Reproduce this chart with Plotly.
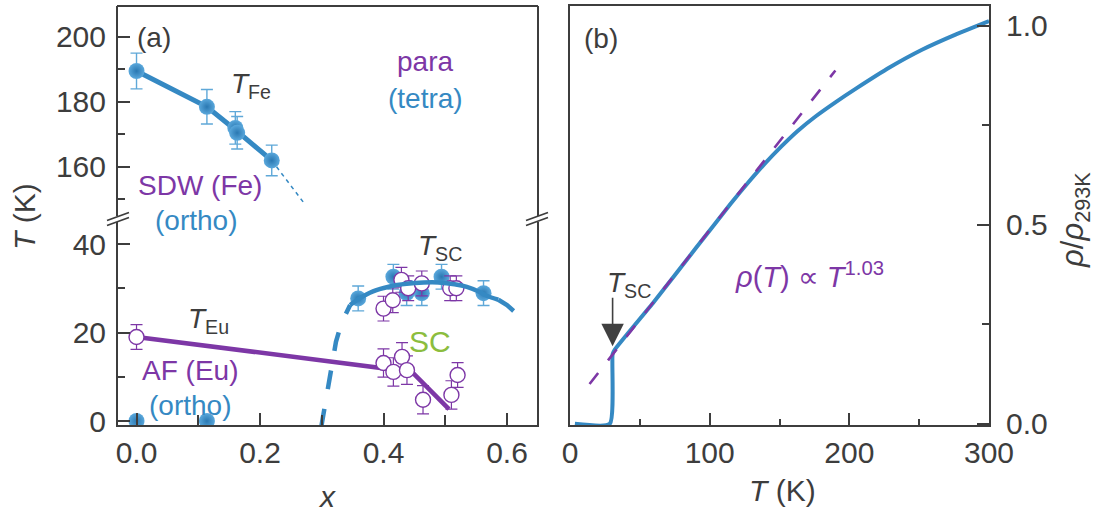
import plotly.graph_objects as go

W, H = 1098, 518

# ---------------- panel (a): phase diagram ----------------
# T_Fe (SDW transition, filled symbols)
fe_x = [0.0, 0.114, 0.160, 0.163, 0.219]
fe_T = [189.5, 178.5, 172.0, 170.5, 162.0]
fe_err = [5.5, 5.3, 5.0, 5.0, 4.7]
fe_line_x = [0.0, 0.114, 0.1615, 0.219]
fe_line_T = [189.5, 178.5, 171.2, 162.0]
fe_ext_x = [0.219, 0.245, 0.270]
fe_ext_T = [162.0, 155.5, 149.2]

# samples without ordering transitions at T = 0
zero_x = [0.0, 0.114]
zero_T = [0.0, 0.0]

# T_SC, filled symbols
sc_x = [0.359, 0.416, 0.4375, 0.462, 0.494, 0.562]
sc_T = [27.7, 32.6, 28.9, 28.9, 32.6, 28.9]
sc_err = [2.8, 2.8, 2.8, 2.8, 2.8, 2.8]

# T_SC, open symbols
sc2_x = [0.400, 0.415, 0.429, 0.440, 0.462, 0.508, 0.518]
sc2_T = [25.4, 27.3, 31.9, 30.0, 31.1, 30.0, 30.0]
sc2_err = [2.8, 2.8, 2.8, 2.8, 2.8, 2.8, 2.8]

# T_Eu, open symbols
eu_x = [0.0, 0.400, 0.416, 0.430, 0.438, 0.464, 0.510, 0.520]
eu_T = [19.0, 13.1, 11.1, 14.5, 11.5, 4.8, 5.9, 10.4]
eu_err = [2.8, 3.2, 3.2, 3.2, 3.2, 3.2, 3.2, 2.8]
eu_line_x = [0.0, 0.446, 0.506]
eu_line_T = [19.0, 11.1, 2.7]

# superconducting dome
dome_x = [0.346, 0.360, 0.383, 0.410, 0.4375, 0.465, 0.490, 0.515, 0.535, 0.555, 0.567, 0.586]
dome_T = [26.2, 27.6, 29.3, 30.4, 31.0, 31.3, 31.3, 30.9, 30.3, 29.2, 28.3, 27.4]
dome_lo_x = [0.299, 0.305, 0.310, 0.316, 0.323, 0.332, 0.346]
dome_lo_T = [-1.5, 3.2, 8.5, 13.0, 17.9, 22.2, 26.2]
dome_hi_x = [0.586, 0.600, 0.613, 0.627]
dome_hi_T = [27.4, 26.2, 24.6, 22.8]

# ---------------- panel (b): resistivity ----------------
rho_T = [3.5, 28.5, 30.5, 32.0, 60.0, 90.0, 115.0, 127.0, 139.0, 151.0, 163.0, 176.0,
         190.0, 205.0, 229.0, 252.0, 276.0, 300.0]
rho_v = [0.0, 0.0, 0.175, 0.186, 0.306, 0.441, 0.553, 0.604, 0.652, 0.696, 0.736, 0.773,
         0.808, 0.843, 0.896, 0.940, 0.978, 1.012]
fit_T = [14.0, 100.0, 190.0]
fit_v = [0.100, 0.487, 0.888]
tsc_rho_T = 30.5
tsc_rho_v = 0.195

BLUE = "#3589c3"
BLUE_ERR = "#5fa8d8"
PURPLE = "#7d37a6"
GREEN = "#8cbd3e"
GREY = "#3d3d3d"
FONT = "Liberation Sans, Arial, sans-serif"


def px(x):
    return x / W


def py(y):
    return 1 - y / H


sphere = dict(color="#5aa8dc", size=16, gradient=dict(type="radial", color="#2a78b2"),
              line=dict(width=0))
ring = dict(color="white", size=15, symbol="circle", line=dict(color=PURPLE, width=1.4))

fig = go.Figure()

# upper part (T_Fe)
fig.add_trace(go.Scatter(x=fe_ext_x, y=fe_ext_T, mode="lines", xaxis="x", yaxis="y2",
                         line=dict(color=BLUE, width=1.5, dash="4px,4px")))
fig.add_trace(go.Scatter(x=fe_line_x, y=fe_line_T, mode="lines", xaxis="x", yaxis="y2",
                         line=dict(color=BLUE, width=5)))
fig.add_trace(go.Scatter(x=fe_x, y=fe_T, mode="markers", xaxis="x", yaxis="y2",
                         marker=sphere,
                         error_y=dict(type="data", array=fe_err, color=BLUE_ERR,
                                      thickness=1.4, width=6)))

# lower part
fig.add_trace(go.Scatter(x=dome_lo_x, y=dome_lo_T, mode="lines", xaxis="x", yaxis="y",
                         line=dict(color=BLUE, width=4.5, dash="19px,20px")))
fig.add_trace(go.Scatter(x=dome_hi_x, y=dome_hi_T, mode="lines", xaxis="x", yaxis="y",
                         line=dict(color=BLUE, width=4.5, dash="19px,20px")))
fig.add_trace(go.Scatter(x=eu_line_x, y=eu_line_T, mode="lines", xaxis="x", yaxis="y",
                         line=dict(color=PURPLE, width=4.5)))
fig.add_trace(go.Scatter(x=sc_x, y=sc_T, mode="markers", xaxis="x", yaxis="y",
                         marker=sphere,
                         error_y=dict(type="data", array=sc_err, color=BLUE_ERR,
                                      thickness=1.4, width=6)))
fig.add_trace(go.Scatter(x=sc2_x, y=sc2_T, mode="markers", xaxis="x", yaxis="y",
                         marker=ring,
                         error_y=dict(type="data", array=sc2_err, color=PURPLE,
                                      thickness=1.2, width=6)))
fig.add_trace(go.Scatter(x=dome_x, y=dome_T, mode="lines", xaxis="x", yaxis="y",
                         line=dict(color=BLUE, width=4.5, shape="spline")))
fig.add_trace(go.Scatter(x=eu_x, y=eu_T, mode="markers", xaxis="x", yaxis="y",
                         marker=ring,
                         error_y=dict(type="data", array=eu_err, color=PURPLE,
                                      thickness=1.2, width=6)))
fig.add_trace(go.Scatter(x=zero_x, y=zero_T, mode="markers", xaxis="x", yaxis="y",
                         marker=sphere))

# panel (b)
fig.add_trace(go.Scatter(x=rho_T, y=rho_v, mode="lines", xaxis="x3", yaxis="y3",
                         line=dict(color=BLUE, width=4, shape="spline", smoothing=0.5)))
fig.add_trace(go.Scatter(x=fit_T, y=fit_v, mode="lines", xaxis="x3", yaxis="y3",
                         line=dict(color=PURPLE, width=2.6, dash="14px,16px")))

tickfont = dict(family=FONT, size=30, color=GREY)
common = dict(showgrid=False, zeroline=False, showline=True, linecolor=GREY, linewidth=2,
              ticks="inside", tickcolor=GREY, tickwidth=2, tickfont=tickfont,
              automargin=False)

xa_dom = [px(118), px(537)]
xb_dom = [px(570), px(989)]

fig.update_layout(
    width=W, height=H,
    margin=dict(l=0, r=0, t=0, b=0, pad=0, autoexpand=False),
    paper_bgcolor="white", plot_bgcolor="rgba(0,0,0,0)",
    showlegend=False,
    font=dict(family=FONT, color=GREY),
    xaxis=dict(domain=xa_dom, range=[-0.03, 0.6486], anchor="y", dtick=0.2, tick0=0,
               tickformat=".1f", ticklen=12,
               minor=dict(dtick=0.1, ticklen=10, ticks="inside", tickcolor=GREY, tickwidth=2),
               **common),
    yaxis=dict(domain=[py(425), py(221)], range=[-0.9, 45.2], anchor="x", dtick=20, tick0=0,
               ticklen=12, mirror=True, ticklabelstandoff=4,
               minor=dict(dtick=10, ticklen=7, ticks="inside", tickcolor=GREY, tickwidth=2),
               **common),
    yaxis2=dict(domain=[py(217), py(6)], range=[144.6, 209.5], anchor="x", dtick=20, tick0=0,
                ticklen=12, mirror=True, ticklabelstandoff=4,
                minor=dict(dtick=10, ticklen=7, ticks="inside", tickcolor=GREY, tickwidth=2),
                **common),
    xaxis3=dict(domain=xb_dom, range=[0, 300], anchor="y3", dtick=100, tick0=0, ticklen=12,
                mirror=True,
                minor=dict(dtick=50, ticklen=6, ticks="inside", tickcolor=GREY, tickwidth=2),
                **common),
    yaxis3=dict(domain=[py(425), py(6)], range=[-0.003, 1.05], anchor="x3", side="right",
                dtick=0.5, tick0=0, tickformat=".1f", ticklen=12, mirror=True,
                ticklabelstandoff=9,
                minor=dict(dtick=0.25, ticklen=7, ticks="inside", tickcolor=GREY, tickwidth=2),
                **common),
)

shapes = []
# top frame line of panel (a)
shapes.append(dict(type="line", xref="paper", yref="paper", x0=px(117), x1=px(538),
                   y0=py(6), y1=py(6), line=dict(color=GREY, width=2)))
# axis-break marks on both spines of panel (a)
for xc in (118, 537):
    shapes.append(dict(type="line", xref="paper", yref="paper",
                       x0=px(xc), y0=py(216), x1=px(xc), y1=py(222),
                       line=dict(color="white", width=4)))
    for dy in (-2.5, 2.5):
        shapes.append(dict(type="line", xref="paper", yref="paper",
                           x0=px(xc - 11), y0=py(219 + dy + 4), x1=px(xc + 11), y1=py(219 + dy - 4),
                           line=dict(color=GREY, width=1.8)))
fig.update_layout(shapes=shapes)

ann = []


def label(x, y, text, color=GREY, size=28, xanchor="center"):
    ann.append(dict(x=px(x), y=py(y), xref="paper", yref="paper", text=text, showarrow=False,
                    xanchor=xanchor, yanchor="middle",
                    font=dict(family=FONT, size=size, color=color)))


label(135, 38, "(a)", xanchor="left")
label(229, 85, "<i>T</i><sub>Fe</sub>", xanchor="left")
label(425, 62, "para", color=PURPLE)
label(425, 99, "(tetra)", color=BLUE)
label(200, 185, "SDW (Fe)", color=PURPLE)
label(196, 220, "(ortho)", color=BLUE)
label(416, 247, "<i>T</i><sub>SC</sub>", xanchor="left")
label(430, 341, "SC", color=GREEN, size=30)
label(186, 320, "<i>T</i><sub>Eu</sub>", xanchor="left")
label(190, 370, "AF (Eu)", color=PURPLE)
label(190, 405, "(ortho)", color=BLUE)
label(582, 39, "(b)", xanchor="left")
label(605, 284, "<i>T</i><sub>SC</sub>", xanchor="left")
label(733, 275, "<i>ρ</i>(<i>T</i>) ∝ <i>T</i><sup>1.03</sup>", color=PURPLE, size=29,
      xanchor="left")

# axis titles
label(327, 496, "<i>x</i>", size=30)
label(782, 490, "<i>T</i> (K)", size=30)
ann.append(dict(x=px(25), y=py(217), xref="paper", yref="paper", text="<i>T</i> (K)",
                showarrow=False, textangle=-90, xanchor="center", yanchor="middle",
                font=dict(family=FONT, size=30, color=GREY)))
ann.append(dict(x=px(1075), y=py(220), xref="paper", yref="paper",
                text="<i>ρ</i>/<i>ρ</i><sub>293K</sub>",
                showarrow=False, textangle=-90, xanchor="center", yanchor="middle",
                font=dict(family=FONT, size=31, color=GREY)))

# arrow marking the superconducting transition
ann.append(dict(x=tsc_rho_T, y=tsc_rho_v, xref="x3", yref="y3", ax=0, ay=-50,
                axref="pixel", ayref="pixel", text="", showarrow=True,
                arrowhead=2, arrowsize=2.8, arrowwidth=1.6, arrowcolor="#404040", standoff=0))

fig.update_layout(annotations=ann)

fig.write_html("out.html")
